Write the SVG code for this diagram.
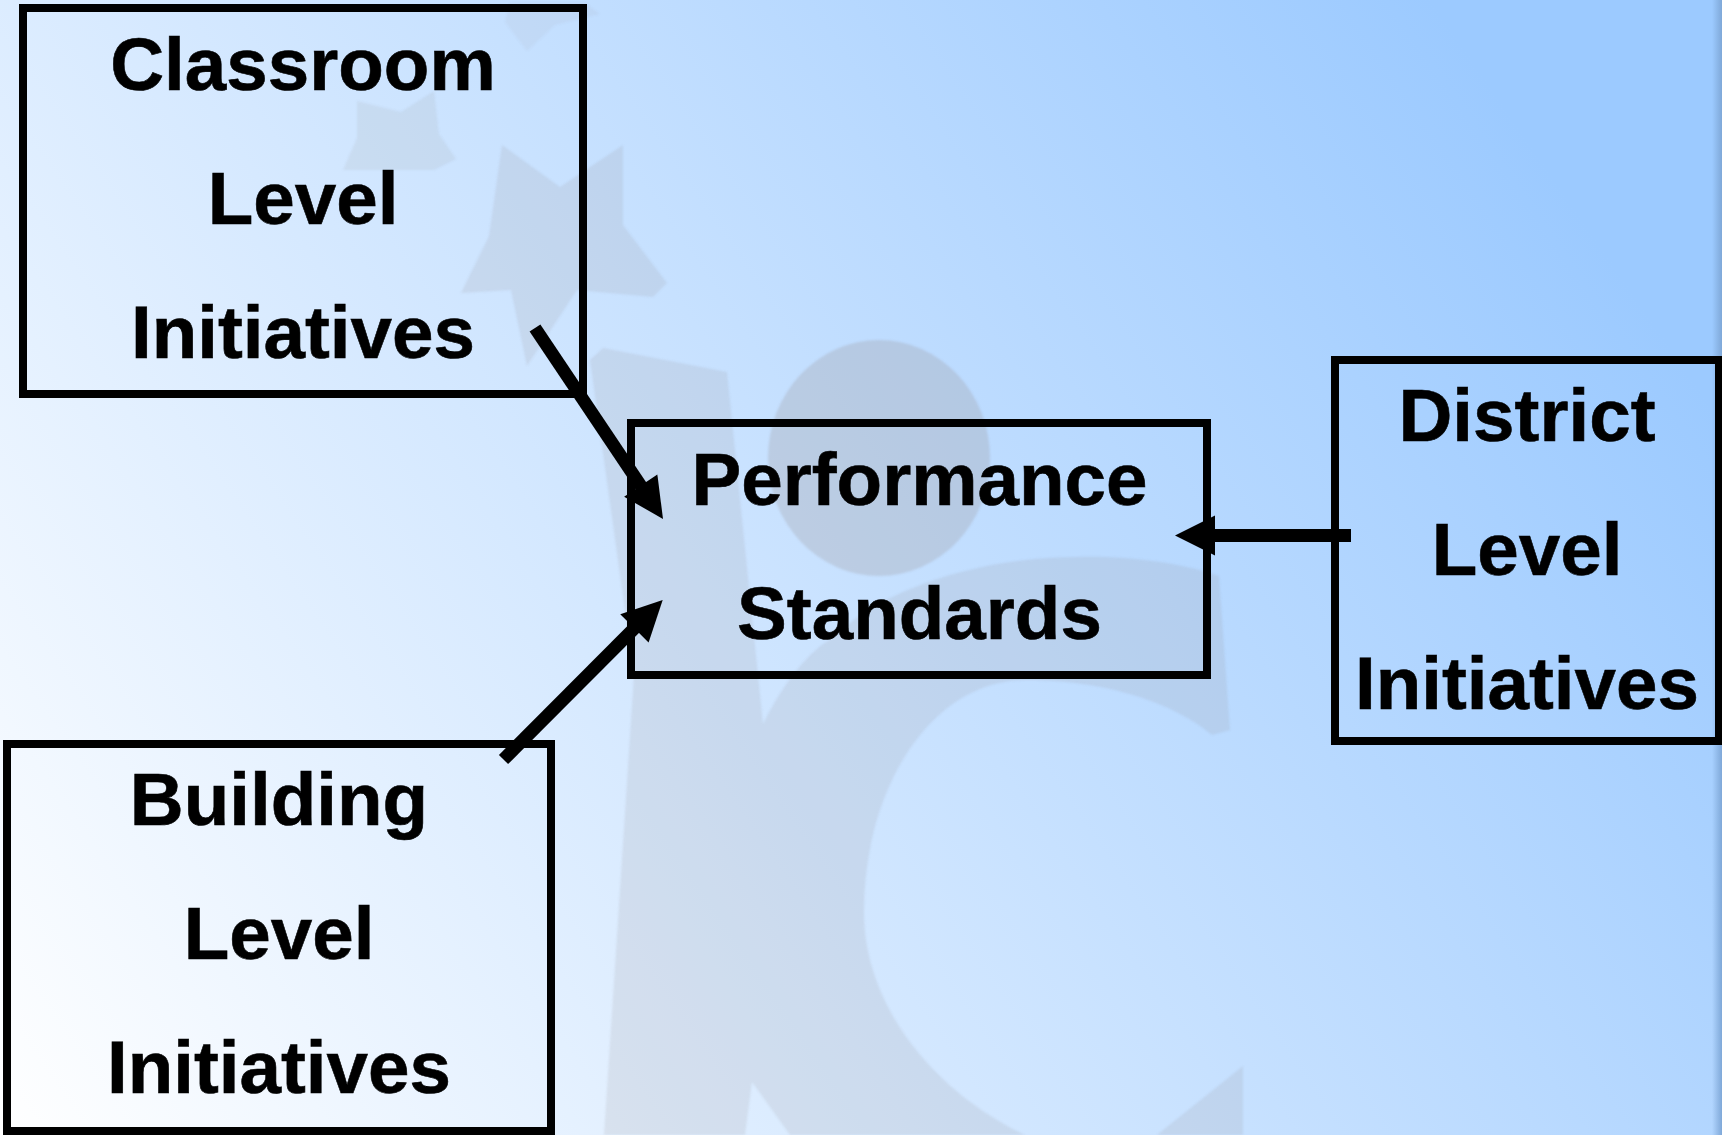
<svg xmlns="http://www.w3.org/2000/svg" width="1722" height="1135" viewBox="0 0 1722 1135">
<style>
.box{fill:none;stroke:#000;stroke-width:8}
.lbl{font-family:"Liberation Sans",Arial,sans-serif;font-weight:700;font-size:74.6px;fill:#000;stroke:#000;stroke-width:.6;text-anchor:middle}
.conn{stroke:#000;stroke-width:13;fill:none;marker-end:url(#head)}
.wm{fill:#96908f;opacity:.15}
</style>
<defs>
<linearGradient id="bg" gradientUnits="userSpaceOnUse" x1="0" y1="1135" x2="1500" y2="100">
<stop offset="0" stop-color="#ffffff"/><stop offset="1" stop-color="#9ccaff"/>
</linearGradient>
<linearGradient id="edge" x1="0" y1="0" x2="1" y2="0">
<stop offset="0" stop-color="#7fa8d8" stop-opacity="0"/><stop offset="1" stop-color="#7fa8d8"/>
</linearGradient>
<filter id="soft" x="-5%" y="-5%" width="110%" height="110%"><feGaussianBlur stdDeviation="1.3"/></filter>
<marker id="head" markerUnits="userSpaceOnUse" markerWidth="40" markerHeight="40" refX="10" refY="20" orient="auto" overflow="visible">
<path d="M0 0L40 20L0 40Z" fill="#000"/>
</marker>
</defs>
<rect width="1722" height="1135" fill="url(#bg)"/>
<rect x="1712" width="10" height="1135" fill="url(#edge)"/>
<g id="watermark" filter="url(#soft)">
<path class="wm" d="M505 22L527 51L555 25L600 14L585 3L510 3Z" style="opacity:.08"/>
<path class="wm" d="M357 101L401 112L434 91L439 134L456 159L434 170L401 170L343 170L357 138Z" style="opacity:.12"/>
<path class="wm" d="M502 145L560 187L623 145L623 225L667 283L653 297L577 290L527 366L511 290L461 293L489 236Z"/>
<ellipse class="wm" cx="879" cy="458" rx="111" ry="118" style="opacity:.25"/>
<path class="wm" d="M590 360L603 348L727 372L763 724C785 680 810 650 834 637C880 590 980 557 1076 557C1130 555 1190 565 1219 576L1230 730L1212 735C1170 700 1100 680 1026 680C930 680 864 790 864 912C864 1010 940 1095 1025 1135L790 1135L752 1082L745 1135L604 1135L634 675Z"/>
<path class="wm" d="M1157 1135L1243 1066L1243 1135Z"/>
</g>
<g id="connectors">
<line class="conn" x1="535" y1="328" x2="646.3" y2="494"/>
<line class="conn" x1="503.5" y1="759.5" x2="641.5" y2="621.2"/>
<line class="conn" x1="1351" y1="535.6" x2="1205" y2="535.6"/>
</g>
<g id="classroom">
<rect class="box" x="23" y="8" width="560" height="386"/>
<text class="lbl" x="303" y="90">Classroom</text>
<text class="lbl" x="303" y="224">Level</text>
<text class="lbl" x="303" y="358">Initiatives</text>
</g>
<g id="performance">
<rect class="box" x="631" y="423" width="576" height="252"/>
<text class="lbl" x="919.5" y="505">Performance</text>
<text class="lbl" x="919.5" y="639">Standards</text>
</g>
<g id="district">
<rect class="box" x="1335" y="360" width="384" height="381"/>
<text class="lbl" x="1527" y="441">District</text>
<text class="lbl" x="1527" y="575">Level</text>
<text class="lbl" x="1527" y="709">Initiatives</text>
</g>
<g id="building">
<rect class="box" x="7" y="744" width="544" height="387"/>
<text class="lbl" x="279" y="825">Building</text>
<text class="lbl" x="279" y="959">Level</text>
<text class="lbl" x="279" y="1093">Initiatives</text>
</g>
</svg>
